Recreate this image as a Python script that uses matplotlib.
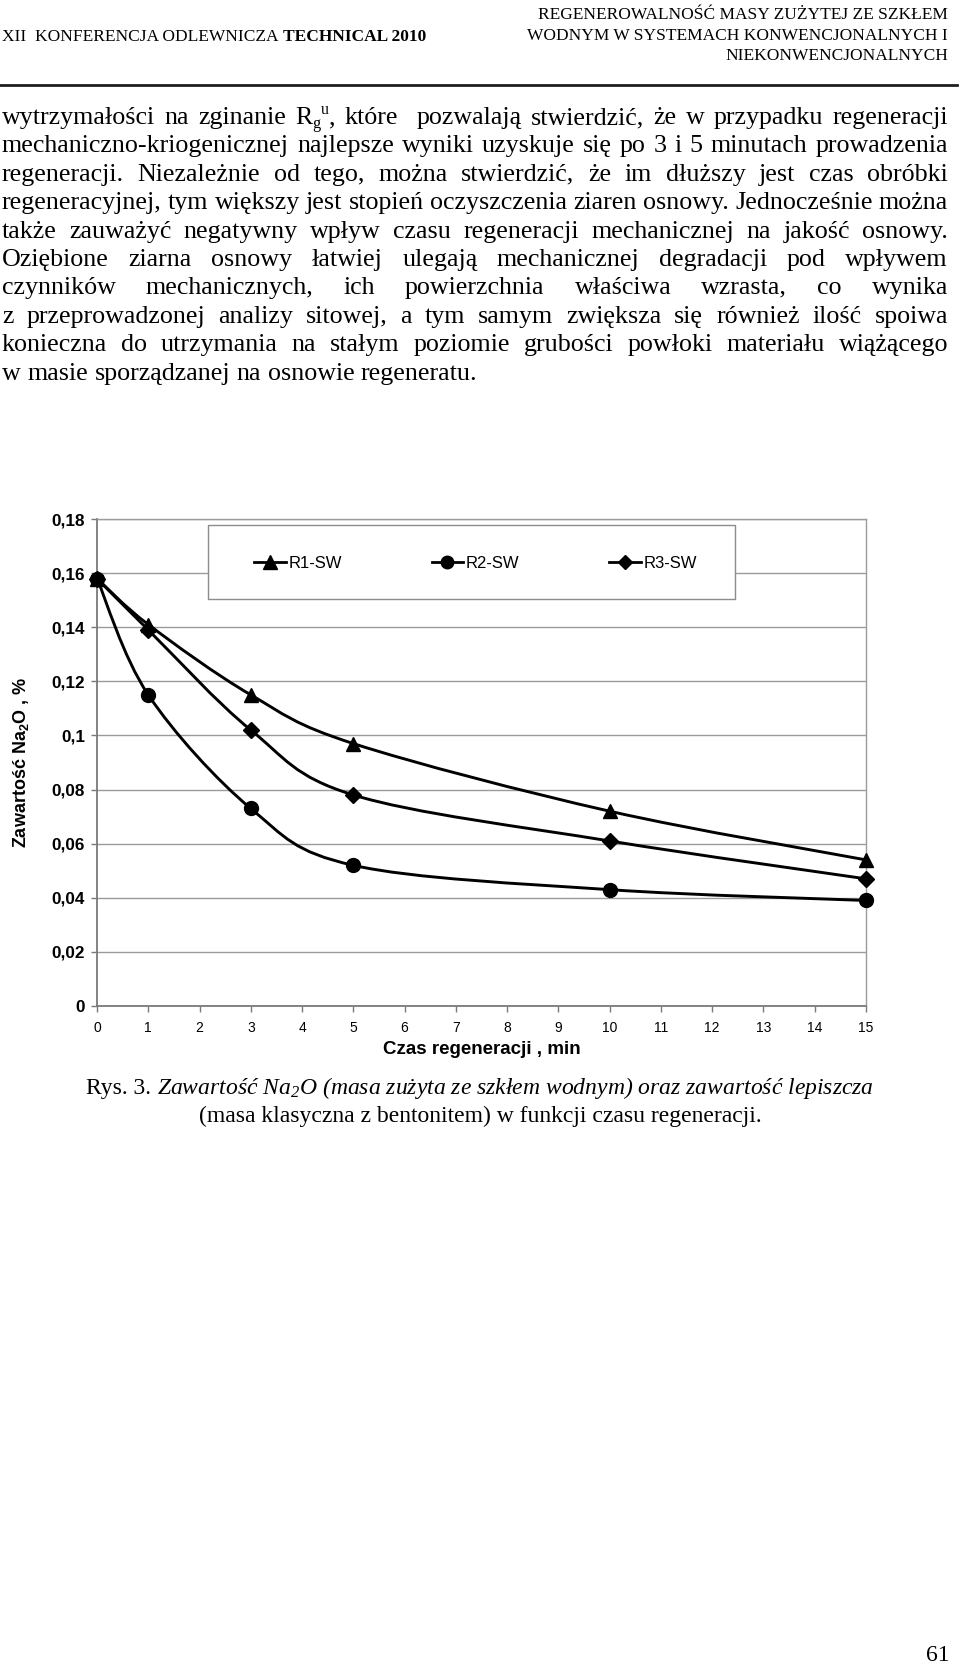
import matplotlib
matplotlib.use('Agg')
import matplotlib.pyplot as plt
from matplotlib.lines import Line2D
from matplotlib.path import Path
from matplotlib.patches import PathPatch, Rectangle
import numpy as np

W, H = 960, 1666

# --- chart data ---
czas = [0, 1, 3, 5, 10, 15]
r1_sw = [0.158, 0.141, 0.115, 0.097, 0.072, 0.054]
r2_sw = [0.158, 0.115, 0.073, 0.052, 0.043, 0.039]
r3_sw = [0.158, 0.139, 0.102, 0.078, 0.061, 0.047]
serie = ['R1-SW', 'R2-SW', 'R3-SW']
y_ticks = [0, 0.02, 0.04, 0.06, 0.08, 0.10, 0.12, 0.14, 0.16, 0.18]
y_tick_labels = ['0', '0,02', '0,04', '0,06', '0,08', '0,1', '0,12', '0,14', '0,16', '0,18']
x_ticks = list(range(16))
x_label = 'Czas regeneracji , min'
y_label = 'Zawartość Na$_2$O , %'

# --- page text ---
header_left = 'XII  KONFERENCJA ODLEWNICZA'
header_left_bold = 'TECHNICAL 2010'
header_right = ['REGENEROWALNOŚĆ MASY ZUŻYTEJ ZE SZKŁEM',
                'WODNYM W SYSTEMACH KONWENCJONALNYCH I',
                'NIEKONWENCJONALNYCH']
body = [
    'wytrzymałości na zginanie #RGU# które  pozwalają stwierdzić, że w przypadku regeneracji',
    'mechaniczno-kriogenicznej najlepsze wyniki uzyskuje się po 3 i 5 minutach prowadzenia',
    'regeneracji. Niezależnie od tego, można stwierdzić, że im dłuższy jest czas obróbki',
    'regeneracyjnej, tym większy jest stopień oczyszczenia ziaren osnowy. Jednocześnie można',
    'także zauważyć negatywny wpływ czasu regeneracji mechanicznej na jakość osnowy.',
    'Oziębione ziarna osnowy łatwiej ulegają mechanicznej degradacji pod wpływem',
    'czynników mechanicznych, ich powierzchnia właściwa wzrasta, co wynika',
    'z przeprowadzonej analizy sitowej, a tym samym zwiększa się również ilość spoiwa',
    'konieczna do utrzymania na stałym poziomie grubości powłoki materiału wiążącego',
    'w masie sporządzanej na osnowie regeneratu.',
]
caption_1a = 'Rys. 3.'
caption_1b = 'Zawartość Na$_2$O (masa zużyta ze szkłem wodnym) oraz zawartość lepiszcza'
caption_2 = '(masa klasyczna z bentonitem) w funkcji czasu regeneracji.'
page_no = '61'

SERIF = ['Liberation Serif', 'DejaVu Serif']
SANS = ['Liberation Sans', 'DejaVu Sans']
plt.rcParams['font.family'] = SANS
plt.rcParams['mathtext.default'] = 'regular'

fig = plt.figure(figsize=(9.6, 16.66), dpi=100)
fig.patch.set_facecolor('white')
renderer = fig.canvas.get_renderer()


def fx(x):
    return x / W


def fy(y):
    return 1 - y / H


def put(x, y, s, size, **kw):
    fam = kw.pop('family', SERIF)
    return fig.text(fx(x), fy(y), s, fontsize=size, family=fam,
                    va='baseline', ha='left', **kw)


def width(t):
    return t.get_window_extent(renderer=renderer).width


def space_w(size, **kw):
    a = put(0, -100, 'n n', size, **kw)
    b = put(0, -100, 'nn', size, **kw)
    w = width(a) - width(b)
    a.remove()
    b.remove()
    return w


def make_token(tok, size, y):
    if tok == '':
        return [], 0.0
    if tok == '#RGU#':
        runs = [('R', 1.0, 0, 'normal'), ('g', 0.62, 4, 'normal'),
                ('u', 0.62, -10, 'normal'), (',', 1.0, 0, 'normal')]
    else:
        runs = [(tok, 1.0, 0, 'normal')]
    arts, total = [], 0.0
    for s, sc, dy, st in runs:
        t = put(0, y + dy, s, size * sc, fontstyle=st)
        arts.append((t, total))
        total += width(t)
    return arts, total


def text_line(line, y, size, left=2, right=None):
    items = [make_token(tk, size, y) for tk in line.split(' ')]
    ws = [w for _, w in items]
    if right is not None and len(items) > 1:
        gap = (right - left - sum(ws)) / (len(items) - 1)
    else:
        gap = space_w(size)
    x = left
    for arts, w in items:
        for t, off in arts:
            t.set_x(fx(x + off))
        x += w + gap


# header
t1 = put(2, 41, header_left, 12.5)
put(2 + width(t1) + space_w(12.5), 41, header_left_bold, 12.5, fontweight='bold')
for i, s in enumerate(header_right):
    fig.text(fx(948), fy(19 + 20.5 * i), s, fontsize=12.5, family=SERIF,
             ha='right', va='baseline')
fig.add_artist(Line2D([0, fx(957)], [fy(85), fy(85)], transform=fig.transFigure,
                      color='#1e1e1e', lw=2))

# body paragraph
body_size = 18.7
for i, line in enumerate(body):
    yb = 124 + 28.4 * i
    if i < len(body) - 1:
        text_line(line, yb, body_size, left=2, right=948)
    else:
        text_line(line, yb, body_size, left=2)

# chart
ax = fig.add_axes([fx(97), fy(1006), (866 - 97) / W, (1006 - 519) / H])
ax.set_xlim(0, 15)
ax.set_ylim(0, 0.18)
ax.set_axisbelow(True)
ax.yaxis.grid(True, color='#9b9b9b', lw=1)
ax.xaxis.grid(False)
for side in ['top', 'right']:
    ax.spines[side].set_color('#9b9b9b')
    ax.spines[side].set_linewidth(1)
for side in ['left', 'bottom']:
    ax.spines[side].set_color('#7a7a7a')
    ax.spines[side].set_linewidth(1.3)

ax.set_yticks(y_ticks)
ax.set_yticklabels(y_tick_labels, fontweight='bold', fontsize=12.3)
ax.set_xticks(x_ticks)
ax.set_xticklabels([str(v) for v in x_ticks], fontsize=10)
ax.tick_params(axis='y', length=4, width=1, color='#7a7a7a', pad=4.5)
ax.tick_params(axis='x', length=4, width=1, color='#7a7a7a', pad=7)

ax.set_xlabel(x_label, fontsize=13.5, fontweight='bold')
ax.xaxis.set_label_coords(0.5, -0.09)
ax.xaxis.label.set_va('center')
ax.set_ylabel(y_label, fontsize=13, fontweight='bold')
ax.yaxis.set_label_coords(-0.099, 0.5)
ax.yaxis.label.set_va('center')


def smooth_path(xs, ys):
    # excel-style smoothed line as cubic bezier segments
    P = np.column_stack([xs, ys]).astype(float)
    n = len(P)
    verts, codes = [P[0]], [Path.MOVETO]
    for i in range(n - 1):
        p0 = P[i - 1] if i > 0 else P[i]
        p3 = P[i + 2] if i + 2 < n else P[i + 1]
        c1 = P[i] + (P[i + 1] - p0) / 6
        c2 = P[i + 1] - (p3 - P[i]) / 6
        verts += [c1, c2, P[i + 1]]
        codes += [Path.CURVE4] * 3
    return Path(verts, codes)


markers = ['^', 'o', 'D']
msizes = [10.5, 10, 8.5]
handles = []
for ys, m, ms, name in zip([r1_sw, r2_sw, r3_sw], markers, msizes, serie):
    ax.add_patch(PathPatch(smooth_path(czas, ys), fc='none', ec='black', lw=2.1,
                           clip_on=False, zorder=3))
    ax.plot(czas, ys, ls='none', marker=m, ms=ms, color='black', clip_on=False, zorder=4)
    handles.append(Line2D([0], [0], color='black', lw=2, marker=m, ms=ms - 1))

# legend box drawn as its own frame, entries spread inside it
ax.add_patch(Rectangle((fx(208), fy(599)), (735 - 208) / W, (599 - 525) / H,
                       transform=fig.transFigure, fc='white', ec='#8c8c8c', lw=1,
                       clip_on=False, zorder=4.5))
ax.legend(handles, serie, loc='center', ncol=3, mode='expand',
          bbox_to_anchor=(fx(254), fy(576), (697 - 254) / W, (576 - 550) / H),
          bbox_transform=fig.transFigure, fontsize=12, frameon=False,
          borderpad=0, borderaxespad=0, handlelength=1.9, handletextpad=0.15)

# caption
cap_size = 17
ca = put(0, 1094, caption_1a, cap_size)
cb = put(0, 1094, caption_1b, cap_size, fontstyle='italic')
gap = space_w(cap_size)
tot = width(ca) + gap + width(cb)
x0 = 480 - tot / 2
ca.set_x(fx(x0))
cb.set_x(fx(x0 + width(ca) + gap))
fig.text(0.5, fy(1122), caption_2, fontsize=cap_size, family=SERIF, ha='center', va='baseline')

# page number
fig.text(fx(950), fy(1661), page_no, fontsize=17, family=SERIF, ha='right', va='baseline')

fig.savefig('out.png', dpi=100, facecolor='white')
